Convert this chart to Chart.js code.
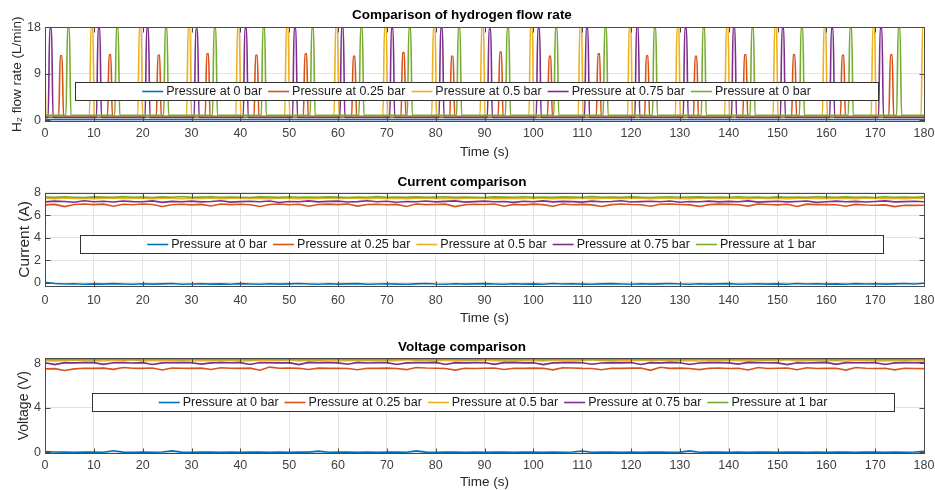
<!DOCTYPE html>
<html>
<head>
<meta charset="utf-8">
<script src="https://cdn.jsdelivr.net/npm/chart.js@4.4.0/dist/chart.umd.min.js"></script>
<style>
  html, body { margin: 0; padding: 0; background: #fff; }
  #wrap { position: relative; width: 935px; height: 490px; overflow: hidden; }
  #wrap canvas { position: absolute; left: 0; }
</style>
</head>
<body>
<div id="wrap">
  <canvas id="flowChart" width="935" height="163" style="top:0px"></canvas>
  <canvas id="currentChart" width="935" height="165" style="top:163px"></canvas>
  <canvas id="voltageChart" width="935" height="162" style="top:328px"></canvas>
</div>
<script>
// ---- data ----
const flowLabels = ['Pressure at 0 bar', 'Pressure at 0.25 bar', 'Pressure at 0.5 bar', 'Pressure at 0.75 bar', 'Pressure at 0 bar'];
const seriesLabels = ['Pressure at 0 bar', 'Pressure at 0.25 bar', 'Pressure at 0.5 bar', 'Pressure at 0.75 bar', 'Pressure at 1 bar'];
const seriesColors = ['#0072BD', '#D95319', '#EDB120', '#7E2F8E', '#77AC30'];

const timeTicks = [0, 10, 20, 30, 40, 50, 60, 70, 80, 90, 100, 110, 120, 130, 140, 150, 160, 170, 180];
const flowTicks = [0, 9, 18];
const currentTicks = [0, 2, 4, 6, 8];
const voltageTicks = [0, 4, 8];

// hydrogen flow: resting level of each series, then purge pulses (peak time s, peak L/min)
const flowBase = [0.15, 0.6, 0.85, 0.55, 0.95];
const pulseTimesOrange = [3.3, 13.3, 23.3, 33.3, 43.3, 53.4, 63.3, 73.4, 83.4, 93.3, 103.4, 113.4, 123.3, 133.3, 143.4, 153.4, 163.4, 173.3];
const pulsePeaksOrange = [12.5, 12.7, 12.6, 12.9, 12.6, 12.9, 12.4, 13.1, 12.4, 13.2, 12.4, 12.9, 12.5, 12.4, 12.7, 12.7, 12.6, 12.7];
const pulseTimesYellow = [-0.3, 9.6, 19.5, 29.5, 39.6, 49.6, 59.7, 69.7, 79.7, 89.6, 99.6, 109.7, 119.8, 129.6, 139.7, 149.6, 159.7, 169.7, 179.9];
const pulsePeaksYellow = [18.1, 18.1, 18.1, 18.1, 18.1, 18.1, 18.1, 18.1, 18.1, 18.1, 18.1, 18.1, 18.1, 18.1, 18.1, 18.1, 18.1, 18.1, 18.1];
const pulseTimesPurple = [1.15, 11.05, 21.0, 31.05, 41.1, 51.2, 60.9, 71.1, 81.2, 91.1, 101.1, 111.0, 121.3, 131.2, 141.1, 151.1, 161.2, 171.2];
const pulsePeaksPurple = [17.8, 17.8, 17.9, 17.7, 17.8, 17.8, 18.0, 17.8, 17.9, 17.7, 17.8, 17.8, 18.0, 17.8, 18.0, 17.8, 17.8, 17.8];
const pulseTimesGreen = [4.8, 14.8, 24.8, 34.8, 44.8, 54.8, 64.8, 74.7, 84.8, 94.8, 104.7, 114.8, 124.9, 134.9, 144.9, 155.0, 165.0, 174.9];
const pulsePeaksGreen = [17.9, 17.9, 17.9, 17.9, 17.9, 17.9, 17.9, 17.9, 17.9, 17.9, 17.9, 17.9, 17.9, 17.9, 17.9, 17.9, 17.9, 17.9];

// current and voltage sampled every 2 s
const sampleTimes = [0, 2, 4, 6, 8, 10, 12, 14, 16, 18, 20, 22, 24, 26, 28, 30, 32, 34, 36, 38,
  40, 42, 44, 46, 48, 50, 52, 54, 56, 58, 60, 62, 64, 66, 68, 70, 72, 74, 76, 78,
  80, 82, 84, 86, 88, 90, 92, 94, 96, 98, 100, 102, 104, 106, 108, 110, 112, 114, 116, 118,
  120, 122, 124, 126, 128, 130, 132, 134, 136, 138, 140, 142, 144, 146, 148, 150, 152, 154, 156, 158,
  160, 162, 164, 166, 168, 170, 172, 174, 176, 178, 180];

const currentBlue = [0.02, -0.08, -0.12, -0.10, -0.14, -0.11, -0.13, -0.09, -0.12, -0.15,
  -0.10, -0.13, -0.11, -0.08, -0.14, -0.12, -0.10, -0.13, -0.11, -0.15,
  -0.09, -0.12, -0.14, -0.10, -0.13, -0.11, -0.08, -0.12, -0.15, -0.10,
  -0.13, -0.11, -0.09, -0.14, -0.12, -0.10, -0.13, -0.15, -0.11, -0.08,
  -0.12, -0.14, -0.10, -0.13, -0.11, -0.09, -0.12, -0.15, -0.10, -0.13,
  -0.11, -0.14, -0.08, -0.12, -0.10, -0.13, -0.15, -0.11, -0.09, -0.12,
  -0.14, -0.10, -0.13, -0.11, -0.08, -0.12, -0.15, -0.10, -0.13, -0.11,
  -0.09, -0.14, -0.12, -0.10, -0.13, -0.11, -0.15, -0.08, -0.12, -0.10,
  -0.13, -0.11, -0.14, -0.09, -0.12, -0.10, -0.13, -0.11, -0.08, -0.12, -0.05];
const currentOrange = [6.92, 6.96, 6.76, 6.95, 6.99, 6.94, 6.98, 6.80, 6.97, 6.93,
  6.99, 6.95, 6.78, 6.93, 6.97, 6.92, 6.96, 6.82, 6.99, 6.94,
  6.97, 6.93, 6.77, 6.95, 7.00, 6.93, 6.97, 6.79, 6.95, 6.98,
  6.94, 6.99, 6.81, 6.95, 6.97, 6.93, 6.96, 6.78, 7.00, 6.94,
  6.95, 6.98, 6.76, 6.93, 6.97, 6.95, 6.99, 6.80, 6.96, 6.92,
  6.98, 6.94, 6.79, 6.99, 6.93, 6.96, 6.92, 6.77, 6.94, 7.00,
  6.95, 6.93, 6.80, 6.97, 6.99, 6.95, 6.92, 6.78, 6.94, 6.98,
  6.96, 6.93, 6.81, 6.99, 6.95, 6.92, 6.97, 6.77, 6.98, 6.94,
  6.95, 6.93, 6.79, 6.96, 6.90, 6.88, 6.92, 6.76, 6.89, 6.87, 6.88];
const currentYellow = [7.50, 7.47, 7.53, 7.49, 7.52, 7.46, 7.51, 7.54, 7.48, 7.50,
  7.53, 7.47, 7.50, 7.52, 7.46, 7.51, 7.49, 7.54, 7.47, 7.50,
  7.52, 7.48, 7.51, 7.46, 7.53, 7.50, 7.47, 7.52, 7.49, 7.54,
  7.48, 7.51, 7.50, 7.46, 7.53, 7.49, 7.52, 7.47, 7.50, 7.54,
  7.48, 7.51, 7.46, 7.52, 7.50, 7.53, 7.47, 7.49, 7.52, 7.48,
  7.54, 7.50, 7.47, 7.51, 7.49, 7.53, 7.46, 7.52, 7.50, 7.48,
  7.51, 7.54, 7.47, 7.50, 7.52, 7.49, 7.46, 7.53, 7.51, 7.48,
  7.50, 7.52, 7.47, 7.54, 7.49, 7.51, 7.46, 7.50, 7.53, 7.48,
  7.52, 7.49, 7.51, 7.47, 7.53, 7.50, 7.48, 7.52, 7.46, 7.51, 7.50];
const currentPurple = [7.18, 7.25, 7.22, 7.15, 7.28, 7.20, 7.24, 7.17, 7.26, 7.21,
  7.19, 7.27, 7.14, 7.23, 7.20, 7.25, 7.18, 7.22, 7.28, 7.16,
  7.21, 7.24, 7.19, 7.26, 7.13, 7.22, 7.20, 7.27, 7.18, 7.23,
  7.25, 7.17, 7.21, 7.28, 7.19, 7.24, 7.15, 7.22, 7.20, 7.26,
  7.18, 7.23, 7.27, 7.16, 7.21, 7.25, 7.19, 7.22, 7.14, 7.24,
  7.20, 7.27, 7.18, 7.23, 7.21, 7.16, 7.25, 7.19, 7.22, 7.28,
  7.17, 7.21, 7.24, 7.19, 7.26, 7.15, 7.22, 7.20, 7.25, 7.18,
  7.23, 7.19, 7.27, 7.16, 7.21, 7.24, 7.18, 7.22, 7.26, 7.14,
  7.20, 7.25, 7.19, 7.23, 7.17, 7.22, 7.27, 7.18, 7.21, 7.24, 7.20];
const currentGreen = [7.62, 7.58, 7.64, 7.60, 7.57, 7.63, 7.61, 7.59, 7.65, 7.60,
  7.62, 7.57, 7.63, 7.60, 7.66, 7.58, 7.61, 7.64, 7.59, 7.62,
  7.60, 7.57, 7.63, 7.61, 7.58, 7.64, 7.60, 7.62, 7.59, 7.63,
  7.61, 7.57, 7.62, 7.60, 7.65, 7.58, 7.62, 7.60, 7.63, 7.59,
  7.61, 7.64, 7.58, 7.62, 7.60, 7.57, 7.63, 7.61, 7.59, 7.64,
  7.60, 7.62, 7.58, 7.63, 7.61, 7.59, 7.65, 7.60, 7.62, 7.58,
  7.63, 7.60, 7.57, 7.62, 7.64, 7.59, 7.61, 7.63, 7.58, 7.62,
  7.60, 7.64, 7.59, 7.61, 7.57, 7.63, 7.60, 7.62, 7.58, 7.64,
  7.61, 7.59, 7.63, 7.60, 7.62, 7.57, 7.64, 7.60, 7.62, 7.59, 7.63];

const voltageBlue = [0.08, 0.04, 0.03, 0.02, 0.03, 0.04, 0.02, 0.15, 0.03, 0.02,
  0.03, 0.02, 0.04, 0.14, 0.03, 0.02, 0.03, 0.04, 0.02, 0.03,
  0.02, 0.03, 0.04, 0.02, 0.03, 0.02, 0.04, 0.03, 0.12, 0.02,
  0.03, 0.04, 0.02, 0.03, 0.02, 0.03, 0.04, 0.02, 0.14, 0.03,
  0.02, 0.03, 0.04, 0.02, 0.03, 0.02, 0.04, 0.03, 0.02, 0.03,
  0.04, 0.02, 0.03, 0.02, 0.04, 0.13, 0.02, 0.03, 0.04, 0.02,
  0.03, 0.02, 0.04, 0.03, 0.02, 0.03, 0.14, 0.02, 0.03, 0.04,
  0.02, 0.03, 0.02, 0.04, 0.03, 0.02, 0.03, 0.04, 0.02, 0.03,
  0.02, 0.04, 0.03, 0.02, 0.03, 0.04, 0.02, 0.03, 0.02, 0.04, 0.10];
const voltageOrange = [7.50, 7.52, 7.36, 7.50, 7.56, 7.55, 7.57, 7.46, 7.62, 7.56,
  7.55, 7.58, 7.40, 7.58, 7.56, 7.55, 7.57, 7.44, 7.60, 7.56,
  7.55, 7.57, 7.38, 7.66, 7.56, 7.58, 7.55, 7.45, 7.57, 7.55,
  7.56, 7.54, 7.42, 7.56, 7.55, 7.57, 7.54, 7.43, 7.62, 7.58,
  7.56, 7.54, 7.39, 7.55, 7.53, 7.56, 7.58, 7.44, 7.56, 7.55,
  7.57, 7.55, 7.41, 7.60, 7.58, 7.55, 7.54, 7.42, 7.56, 7.55,
  7.57, 7.58, 7.37, 7.64, 7.55, 7.57, 7.54, 7.43, 7.55, 7.58,
  7.54, 7.56, 7.40, 7.62, 7.54, 7.56, 7.58, 7.42, 7.60, 7.54,
  7.56, 7.55, 7.39, 7.63, 7.56, 7.54, 7.56, 7.41, 7.55, 7.53, 7.52];
const voltageYellow = [8.24, 8.22, 8.26, 8.30, 8.23, 8.25, 8.21, 8.27, 8.24, 8.33,
  8.22, 8.25, 8.23, 8.28, 8.24, 8.21, 8.26, 8.23, 8.31, 8.25,
  8.22, 8.24, 8.27, 8.23, 8.25, 8.32, 8.22, 8.26, 8.24, 8.21,
  8.25, 8.23, 8.29, 8.24, 8.22, 8.26, 8.23, 8.33, 8.25, 8.22,
  8.24, 8.27, 8.23, 8.25, 8.21, 8.30, 8.24, 8.22, 8.26, 8.23,
  8.25, 8.22, 8.28, 8.24, 8.21, 8.26, 8.33, 8.23, 8.25, 8.22,
  8.24, 8.27, 8.23, 8.31, 8.22, 8.25, 8.24, 8.21, 8.26, 8.23,
  8.29, 8.24, 8.22, 8.26, 8.25, 8.23, 8.32, 8.22, 8.24, 8.27,
  8.23, 8.25, 8.21, 8.26, 8.30, 8.24, 8.22, 8.25, 8.23, 8.26, 8.24];
const voltagePurple = [8.05, 7.88, 8.06, 8.04, 8.07, 8.06, 7.91, 8.05, 8.07, 8.03,
  8.06, 7.89, 8.04, 8.07, 8.06, 8.05, 7.93, 8.04, 8.08, 8.05,
  8.06, 7.90, 8.07, 8.05, 8.04, 8.06, 7.88, 8.08, 8.05, 8.07,
  8.04, 7.92, 8.08, 8.03, 8.05, 8.06, 7.89, 8.04, 8.06, 8.05,
  8.08, 7.90, 8.06, 8.04, 8.05, 8.07, 7.91, 8.06, 8.08, 8.04,
  8.05, 7.88, 8.04, 8.06, 8.07, 8.05, 7.92, 8.03, 8.06, 8.04,
  8.07, 7.89, 8.06, 8.04, 8.08, 8.05, 7.90, 8.03, 8.06, 8.07,
  8.04, 7.93, 8.08, 8.06, 8.05, 8.04, 7.88, 8.05, 8.03, 8.06,
  8.08, 7.91, 8.06, 8.05, 8.07, 8.06, 7.89, 8.04, 8.06, 8.05, 8.06];
const voltageGreen = [8.36, 8.34, 8.38, 8.35, 8.37, 8.33, 8.36, 8.39, 8.35, 8.37,
  8.34, 8.36, 8.38, 8.35, 8.33, 8.37, 8.36, 8.34, 8.38, 8.35,
  8.37, 8.33, 8.36, 8.39, 8.34, 8.36, 8.35, 8.38, 8.33, 8.37,
  8.36, 8.34, 8.38, 8.35, 8.37, 8.33, 8.36, 8.39, 8.35, 8.37,
  8.34, 8.36, 8.38, 8.35, 8.33, 8.37, 8.36, 8.34, 8.38, 8.35,
  8.37, 8.33, 8.36, 8.39, 8.34, 8.36, 8.35, 8.38, 8.33, 8.37,
  8.36, 8.34, 8.38, 8.35, 8.37, 8.33, 8.36, 8.39, 8.35, 8.37,
  8.34, 8.36, 8.38, 8.35, 8.33, 8.37, 8.36, 8.34, 8.38, 8.35,
  8.37, 8.33, 8.36, 8.39, 8.34, 8.36, 8.35, 8.38, 8.33, 8.37, 8.36];

// ---- helpers ----
Chart.defaults.font.family = '"Liberation Sans", Arial, sans-serif';

// turns the read pulse peaks into a polyline on top of the resting level
function pulseTrain(base, times, peaks) {
  const pts = [{ x: -1, y: base }];
  times.forEach((t, i) => {
    pts.push({ x: t - 0.5, y: base }, { x: t - 0.18, y: peaks[i] }, { x: t + 0.18, y: peaks[i] }, { x: t + 0.5, y: base });
  });
  pts.push({ x: 181, y: base });
  return pts;
}

function sampled(values) {
  return values.map((v, i) => ({ x: sampleTimes[i], y: v }));
}

function makeDatasets(labels, seriesData, smooth) {
  return seriesData.map((pts, i) => ({
    label: labels[i],
    data: pts,
    borderColor: seriesColors[i],
    backgroundColor: seriesColors[i],
    borderWidth: 1.6,
    pointRadius: 0,
    tension: smooth ? 0.4 : 0,
    cubicInterpolationMode: smooth ? 'monotone' : 'default',
    order: seriesData.length - i  // later series on top, like the original
  }));
}

// box around the plot with inward tick marks
const axesBox = {
  id: 'axesBox',
  afterDatasetsDraw(chart) {
    const { ctx, chartArea: a, scales } = chart;
    const l = Math.round(a.left) + 0.5, r = Math.round(a.right) + 0.5;
    const t = Math.round(a.top) + 0.5, b = Math.round(a.bottom) + 0.5;
    ctx.save();
    ctx.strokeStyle = '#4a4a4a';
    ctx.lineWidth = 1;
    ctx.strokeRect(l, t, r - l, b - t);
    ctx.beginPath();
    scales.x.ticks.forEach(tk => {
      const px = Math.round(scales.x.getPixelForValue(tk.value)) + 0.5;
      ctx.moveTo(px, b); ctx.lineTo(px, b - 5);
      ctx.moveTo(px, t); ctx.lineTo(px, t + 5);
    });
    scales.y.ticks.forEach(tk => {
      const py = Math.round(scales.y.getPixelForValue(tk.value)) + 0.5;
      ctx.moveTo(l, py); ctx.lineTo(l + 5, py);
      ctx.moveTo(r, py); ctx.lineTo(r - 5, py);
    });
    ctx.stroke();
    ctx.restore();
  }
};

// horizontal legend drawn inside the plot, like the MATLAB one
const legendBox = {
  id: 'legendBox',
  afterDatasetsDraw(chart, args, opts) {
    const ctx = chart.ctx;
    ctx.save();
    ctx.fillStyle = '#fff';
    ctx.fillRect(opts.x, opts.y, opts.w, opts.h);
    ctx.strokeStyle = '#333';
    ctx.lineWidth = 1;
    ctx.strokeRect(opts.x + 0.5, opts.y + 0.5, opts.w, opts.h);
    ctx.font = '12.5px "Liberation Sans", Arial, sans-serif';
    ctx.textBaseline = 'middle';
    const lineLen = 21, gapText = 3, gapItem = 6;
    const items = chart.data.datasets.map(d => ({ label: d.label, color: d.borderColor, w: ctx.measureText(d.label).width }));
    const total = items.reduce((s, it) => s + lineLen + gapText + it.w, 0) + gapItem * (items.length - 1);
    let cx = opts.x + (opts.w - total) / 2;
    const cy = opts.y + opts.h / 2 + 0.5;
    items.forEach(it => {
      ctx.strokeStyle = it.color;
      ctx.lineWidth = 1.6;
      ctx.beginPath();
      ctx.moveTo(cx, cy); ctx.lineTo(cx + lineLen, cy);
      ctx.stroke();
      cx += lineLen + gapText;
      ctx.fillStyle = '#1a1a1a';
      ctx.fillText(it.label, cx, cy);
      cx += it.w + gapItem;
    });
    ctx.restore();
  }
};

function makeChart(id, cfg) {
  return new Chart(document.getElementById(id), {
    type: 'line',
    data: { datasets: cfg.datasets },
    options: {
      responsive: false,
      animation: false,
      layout: { padding: { left: 0, right: 11, top: 0, bottom: 0 } },
      plugins: {
        legend: { display: false },
        tooltip: { enabled: false },
        title: {
          display: true, text: cfg.title, color: '#000',
          font: { size: 13.5, weight: 'bold' },
          padding: cfg.titlePad
        },
        legendBox: cfg.legend
      },
      scales: {
        x: {
          type: 'linear', min: 0, max: 180,
          afterBuildTicks: s => { s.ticks = timeTicks.map(v => ({ value: v })); },
          // fixed height, and no extra side padding for the end labels
          afterFit: s => { s.height = cfg.xHeight; s.paddingLeft = 0; s.paddingRight = 0; },
          grid: { color: '#e3e3e3', drawTicks: false },
          border: { display: false },
          ticks: { padding: cfg.xTickPad, color: '#404040', font: { size: 12.5 }, maxRotation: 0, autoSkip: false },
          title: { display: true, text: 'Time (s)', color: '#262626', font: { size: 13.5 }, padding: { top: 0, bottom: cfg.xTitlePad } }
        },
        y: {
          type: 'linear', min: cfg.yMin, max: cfg.yMax,
          afterBuildTicks: s => { s.ticks = cfg.yTicks.map(v => ({ value: v })); },
          afterFit: s => { s.width = 45; s.paddingTop = 0; s.paddingBottom = 0; },
          grid: { color: '#e3e3e3', drawTicks: false },
          border: { display: false },
          ticks: { padding: 4, color: '#404040', font: { size: 12.5 } },
          title: { display: true, text: cfg.yTitle, color: '#262626', font: { size: cfg.yTitleSize }, padding: { top: cfg.yTitlePad, bottom: 0 } }
        }
      }
    },
    plugins: [axesBox, legendBox]
  });
}

document.addEventListener('DOMContentLoaded', () => {
  makeChart('flowChart', {
    title: 'Comparison of hydrogen flow rate',
    titlePad: { top: 7, bottom: 4.2 },
    yTitle: 'H\u2082 flow rate (L/min)', yTitlePad: 9, yTitleSize: 13.5,
    yMin: -0.15, yMax: 18, yTicks: flowTicks,
    xHeight: 42, xTickPad: 4.8, xTitlePad: 2.9,
    legend: { x: 75, y: 82, w: 803, h: 18 },
    datasets: makeDatasets(flowLabels, [
      [{ x: -1, y: flowBase[0] }, { x: 181, y: flowBase[0] }],
      pulseTrain(flowBase[1], pulseTimesOrange, pulsePeaksOrange),
      pulseTrain(flowBase[2], pulseTimesYellow, pulsePeaksYellow),
      pulseTrain(flowBase[3], pulseTimesPurple, pulsePeaksPurple),
      pulseTrain(flowBase[4], pulseTimesGreen, pulsePeaksGreen)
    ], true)
  });

  makeChart('currentChart', {
    title: 'Current comparison',
    titlePad: { top: 10.9, bottom: 2.6 },
    yTitle: 'Current (A)', yTitlePad: 15.7, yTitleSize: 15.5,
    yMin: -0.3, yMax: 8, yTicks: currentTicks,
    xHeight: 42, xTickPad: 6.8, xTitlePad: 1.9,
    legend: { x: 80, y: 72, w: 803, h: 18 },
    datasets: makeDatasets(seriesLabels, [
      sampled(currentBlue), sampled(currentOrange), sampled(currentYellow), sampled(currentPurple), sampled(currentGreen)
    ], false)
  });

  makeChart('voltageChart', {
    title: 'Voltage comparison',
    titlePad: { top: 10.9, bottom: 3.2 },
    yTitle: 'Voltage (V)', yTitlePad: 15.6, yTitleSize: 14,
    yMin: -0.05, yMax: 8.45, yTicks: voltageTicks,
    xHeight: 37, xTickPad: 4.8, xTitlePad: 0,
    legend: { x: 92, y: 65, w: 802, h: 18 },
    datasets: makeDatasets(seriesLabels, [
      sampled(voltageBlue), sampled(voltageOrange), sampled(voltageYellow), sampled(voltagePurple), sampled(voltageGreen)
    ], false)
  });
});
</script>
</body>
</html>
